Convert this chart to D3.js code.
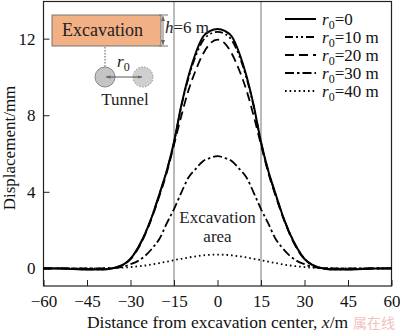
<!DOCTYPE html>
<html><head><meta charset="utf-8">
<script src="https://cdn.jsdelivr.net/npm/d3@7"></script>
<style>
html,body{margin:0;padding:0;background:#fff;}
svg{display:block;font-family:"Liberation Serif","Times New Roman",Times,serif;}
</style></head>
<body>
<svg id="chart" width="400" height="331"></svg>
<script>
const xs = [-60,-55,-50,-45,-40,-37.5,-35,-32.5,-30,-27.5,-25,-22.5,-20,-17.5,-15,-12.5,-10,-7.5,-5,-2.5,0,2.5,5,7.5,10,12.5,15,17.5,20,22.5,25,27.5,30,32.5,35,37.5,40,45,50,55,60];
const r0_0  = [0,0,-0.03,-0.06,-0.06,-0.03,0.05,0.2,0.5,1.05,1.8,2.75,3.9,5.1,6.6,8.5,10.05,11.25,12.1,12.4,12.5,12.4,12.1,11.25,10.05,8.5,6.6,5.1,3.9,2.75,1.8,1.05,0.5,0.2,0.05,-0.03,-0.06,-0.06,-0.03,0,0];
const r0_10 = [0,0,-0.03,-0.05,-0.05,-0.02,0.05,0.2,0.5,1.05,1.8,2.75,3.88,5.08,6.58,8.45,9.95,11.1,11.9,12.25,12.35,12.25,11.9,11.1,9.95,8.45,6.58,5.08,3.88,2.75,1.8,1.05,0.5,0.2,0.05,-0.02,-0.05,-0.05,-0.03,0,0];
const r0_20 = [0,0,-0.02,-0.04,-0.04,-0.02,0.05,0.2,0.48,1.0,1.75,2.7,3.8,5.0,6.45,7.95,9.3,10.35,11.2,11.75,11.95,11.75,11.2,10.35,9.3,7.95,6.45,5.0,3.8,2.7,1.75,1.0,0.48,0.2,0.05,-0.02,-0.04,-0.04,-0.02,0,0];
const r0_30 = [0,0,0,0,0.005,0.01,0.03,0.09,0.22,0.38,0.65,1.05,1.55,2.35,3.1,3.95,4.75,5.2,5.6,5.77,5.86,5.77,5.6,5.2,4.75,3.95,3.1,2.35,1.55,1.05,0.65,0.38,0.22,0.09,0.03,0.01,0.005,0,0,0,0];
const r0_40 = [0,0,0,0,0,0.01,0.02,0.04,0.07,0.11,0.15,0.21,0.28,0.35,0.43,0.5,0.57,0.63,0.68,0.71,0.72,0.71,0.68,0.63,0.57,0.5,0.43,0.35,0.28,0.21,0.15,0.11,0.07,0.04,0.02,0.01,0,0,0,0,0];
const seriesLabels = ["0","10 m","20 m","30 m","40 m"];
const xTicks = [-60,-45,-30,-15,0,15,30,45,60];
const yTicks = [0,4,8,12];
const boundaryX = [-15,15];

const SERIF = "'Liberation Serif','Times New Roman',Times,serif";
const svg = d3.select("#chart");
const L=43.5, R=391.5, T=1.5, B=286;
const x = d3.scaleLinear().domain([-60,60]).range([L,R]);
const y = d3.scaleLinear().domain([-0.92,13.94]).range([B,T]);

// watermark
svg.append("text").attr("x",395).attr("y",328).attr("text-anchor","end")
  .attr("font-family","'Noto Sans CJK SC',sans-serif").attr("font-size",14)
  .attr("fill","#f3c0c0").text("属在线");

// boundary lines
svg.selectAll("line.bd").data(boundaryX).enter().append("line")
  .attr("x1",d=>x(d)).attr("x2",d=>x(d)).attr("y1",T).attr("y2",B)
  .attr("stroke","#777").attr("stroke-width",1);

// axes
const xAxis = d3.axisBottom(x).tickValues(xTicks).tickSize(-6).tickPadding(9)
  .tickFormat(d=> d<0 ? "\u2212"+Math.abs(d) : d);
const gx = svg.append("g").attr("transform",`translate(0,${B})`).call(xAxis);
gx.attr("font-family",SERIF);
gx.select(".domain").remove();
gx.selectAll("text").attr("font-size",17).attr("fill","#111");
gx.selectAll("line").attr("stroke","#222");

const yAxis = d3.axisLeft(y).tickValues(yTicks).tickSize(-6).tickPadding(8);
const gy = svg.append("g").attr("transform",`translate(${L},0)`).call(yAxis);
gy.attr("font-family",SERIF);
gy.select(".domain").remove();
gy.selectAll("text").attr("font-size",17).attr("fill","#111");
gy.selectAll("line").attr("stroke","#222");

// frame
svg.append("rect").attr("x",L).attr("y",T).attr("width",R-L).attr("height",B-T)
  .attr("fill","none").attr("stroke","#222").attr("stroke-width",1.2);

// curves
const styles = [
  {data:r0_0, dash:null, w:2},
  {data:r0_10, dash:"8,3,2,3,2,3", w:1.8},
  {data:r0_20, dash:"9,5", w:1.8},
  {data:r0_30, dash:"9,3,2.5,3", w:1.8},
  {data:r0_40, dash:"1.6,3", w:1.8}
];
const line = d3.line().x((d,i)=>x(xs[i])).y(d=>y(d)).curve(d3.curveMonotoneX);
styles.slice().reverse().forEach(s=>{
  svg.append("path").datum(s.data).attr("d",line).attr("fill","none")
    .attr("stroke","#000").attr("stroke-width",s.w)
    .attr("stroke-dasharray",s.dash);
});

// legend
const lg = svg.append("g").attr("font-family",SERIF);
const rows = [19,37,55,73,91];
styles.forEach((s,i)=>{
  lg.append("line").attr("x1",285).attr("x2",316).attr("y1",rows[i]).attr("y2",rows[i])
    .attr("stroke","#000").attr("stroke-width",s.w).attr("stroke-dasharray",s.dash);
  const t = lg.append("text").attr("x",322).attr("y",rows[i]+6).attr("font-size",17).attr("fill","#111");
  t.append("tspan").attr("font-style","italic").text("r");
  t.append("tspan").attr("font-size",12).attr("dy",4).text("0");
  t.append("tspan").attr("dy",-4).text("="+seriesLabels[i]);
});

// excavation area label
svg.append("text").attr("x",x(0)).attr("y",222.5).attr("text-anchor","middle").attr("font-size",17).attr("fill","#222").text("Excavation");
svg.append("text").attr("x",x(0)).attr("y",241.5).attr("text-anchor","middle").attr("font-size",17).attr("fill","#222").text("area");

// inset schematic
const ins = svg.append("g");
ins.append("rect").attr("x",52).attr("y",15).attr("width",109).attr("height",31)
  .attr("fill","#f2b085").attr("stroke","#777").attr("stroke-width",1);
ins.append("text").attr("x",62).attr("y",36).attr("font-size",18).attr("fill","#222").text("Excavation");
const defs = svg.append("defs");
defs.append("marker").attr("id","ah").attr("viewBox","0 0 10 10").attr("refX",10).attr("refY",5)
  .attr("markerWidth",5).attr("markerHeight",5).attr("orient","auto-start-reverse")
  .append("path").attr("d","M0,1 L10,5 L0,9 Z").attr("fill","#666");
ins.append("line").attr("x1",163).attr("x2",163).attr("y1",16).attr("y2",45)
  .attr("stroke","#777").attr("stroke-width",1).attr("marker-start","url(#ah)").attr("marker-end","url(#ah)");
ins.append("line").attr("x1",159).attr("x2",168).attr("y1",15).attr("y2",15).attr("stroke","#777");
ins.append("line").attr("x1",159).attr("x2",168).attr("y1",46).attr("y2",46).attr("stroke","#777");
const ht = ins.append("text").attr("x",165).attr("y",33).attr("font-size",17).attr("fill","#222");
ht.append("tspan").attr("font-style","italic").text("h");
ht.append("tspan").text("=6 m");
ins.append("line").attr("x1",105).attr("x2",105).attr("y1",47).attr("y2",76)
  .attr("stroke","#555").attr("stroke-width",1).attr("stroke-dasharray","1.5,1.5");
ins.append("circle").attr("cx",105).attr("cy",77).attr("r",10).attr("fill","#c4c4c4").attr("stroke","#888").attr("stroke-width",1);
ins.append("circle").attr("cx",143).attr("cy",77).attr("r",10).attr("fill","#cfcfcf").attr("stroke","#888").attr("stroke-width",1).attr("stroke-dasharray","1.5,1.5");
ins.append("line").attr("x1",106).attr("x2",142).attr("y1",77).attr("y2",77)
  .attr("stroke","#444").attr("stroke-width",0.9).attr("marker-start","url(#ah)").attr("marker-end","url(#ah)");
const rt = ins.append("text").attr("x",117).attr("y",67).attr("font-size",17).attr("fill","#222");
rt.append("tspan").attr("font-style","italic").text("r");
rt.append("tspan").attr("font-size",12).attr("dy",4).text("0");
ins.append("text").attr("x",125).attr("y",105).attr("text-anchor","middle").attr("font-size",17).attr("fill","#222").text("Tunnel");

// axis titles
svg.append("text").attr("x",(L+R)/2).attr("y",328).attr("text-anchor","middle").attr("font-size",17.5).attr("fill","#111")
  .call(t=>{t.append("tspan").text("Distance from excavation center, ");t.append("tspan").attr("font-style","italic").text("x");t.append("tspan").text("/m");});
svg.append("text").attr("transform","translate(15,148) rotate(-90)").attr("text-anchor","middle").attr("font-size",17).attr("fill","#111").text("Displacement/mm");
</script>
</body></html>
